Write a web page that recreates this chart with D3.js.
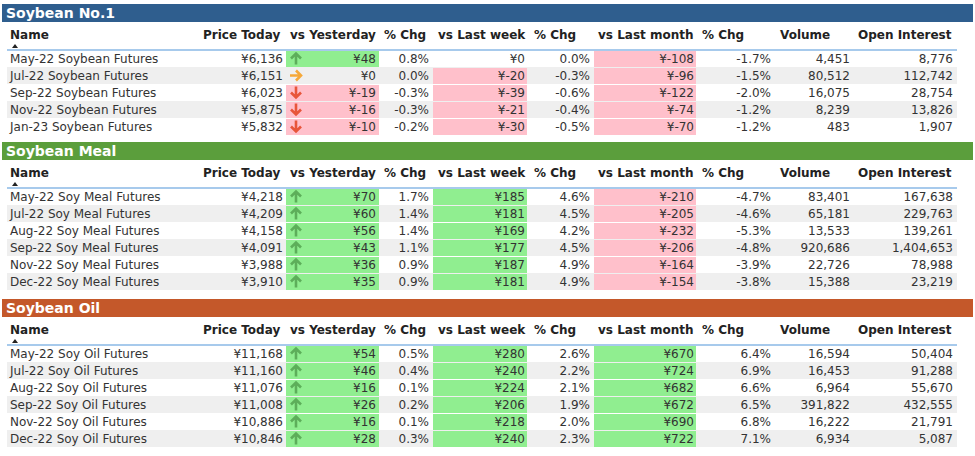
<!DOCTYPE html>
<html><head><meta charset="utf-8">
<script src="https://cdn.jsdelivr.net/npm/d3@7"></script>
<style>body{margin:0;background:#fff}text{font-family:"DejaVu Sans",Verdana,sans-serif}</style>
</head><body><svg id="c" width="975" height="456"></svg>
<script>
const headers = ["Name","Price Today","vs Yesterday","% Chg","vs Last week","% Chg","vs Last month","% Chg","Volume","Open Interest"];

const soyNames = ["May-22 Soybean Futures","Jul-22 Soybean Futures","Sep-22 Soybean Futures","Nov-22 Soybean Futures","Jan-23 Soybean Futures"];
const soyPrice = [6136,6151,6023,5875,5832];
const soyDay = [48,0,-19,-16,-10];
const soyDayPct = [0.8,0.0,-0.3,-0.3,-0.2];
const soyWeek = [0,-20,-39,-21,-30];
const soyWeekPct = [0.0,-0.3,-0.6,-0.4,-0.5];
const soyMonth = [-108,-96,-122,-74,-70];
const soyMonthPct = [-1.7,-1.5,-2.0,-1.2,-1.2];
const soyVol = [4451,80512,16075,8239,483];
const soyOI = [8776,112742,28754,13826,1907];

const mealNames = ["May-22 Soy Meal Futures","Jul-22 Soy Meal Futures","Aug-22 Soy Meal Futures","Sep-22 Soy Meal Futures","Nov-22 Soy Meal Futures","Dec-22 Soy Meal Futures"];
const mealPrice = [4218,4209,4158,4091,3988,3910];
const mealDay = [70,60,56,43,36,35];
const mealDayPct = [1.7,1.4,1.4,1.1,0.9,0.9];
const mealWeek = [185,181,169,177,187,181];
const mealWeekPct = [4.6,4.5,4.2,4.5,4.9,4.9];
const mealMonth = [-210,-205,-232,-206,-164,-154];
const mealMonthPct = [-4.7,-4.6,-5.3,-4.8,-3.9,-3.8];
const mealVol = [83401,65181,13533,920686,22726,15388];
const mealOI = [167638,229763,139261,1404653,78988,23219];

const oilNames = ["May-22 Soy Oil Futures","Jul-22 Soy Oil Futures","Aug-22 Soy Oil Futures","Sep-22 Soy Oil Futures","Nov-22 Soy Oil Futures","Dec-22 Soy Oil Futures"];
const oilPrice = [11168,11160,11076,11008,10886,10846];
const oilDay = [54,46,16,26,16,28];
const oilDayPct = [0.5,0.4,0.1,0.2,0.1,0.3];
const oilWeek = [280,240,224,206,218,240];
const oilWeekPct = [2.6,2.2,2.1,1.9,2.0,2.3];
const oilMonth = [670,724,682,672,690,722];
const oilMonthPct = [6.4,6.9,6.6,6.5,6.8,7.1];
const oilVol = [16594,16453,6964,391822,16222,6934];
const oilOI = [50404,91288,55670,432555,21791,5087];

const sections = [
  {title:"Soybean No.1", color:"#2F5E8E", y:4, names:soyNames, price:soyPrice, day:soyDay, dayPct:soyDayPct, week:soyWeek, weekPct:soyWeekPct, month:soyMonth, monthPct:soyMonthPct, vol:soyVol, oi:soyOI},
  {title:"Soybean Meal", color:"#5B9E3C", y:142, names:mealNames, price:mealPrice, day:mealDay, dayPct:mealDayPct, week:mealWeek, weekPct:mealWeekPct, month:mealMonth, monthPct:mealMonthPct, vol:mealVol, oi:mealOI},
  {title:"Soybean Oil", color:"#C4582A", y:299, names:oilNames, price:oilPrice, day:oilDay, dayPct:oilDayPct, week:oilWeek, weekPct:oilWeekPct, month:oilMonth, monthPct:oilMonthPct, vol:oilVol, oi:oilOI}
];

const svg = d3.select("#c");
const comma = v => d3.format(",")(v).replace("−","-");
const yen = v => "¥" + comma(v);
const pct = v => v.toFixed(1) + "%";
const rowH = 17;

// column layout: header x, value right edge, optional cell box
const headX = [10,203,290,384,438,534,598,702,780,858];
const valR = [0,283,376,429,525,590,694,771,850,953];
const boxes = {2:[286,379],4:[433,527],6:[594,696]};

sections.forEach(s => {
  const g = svg.append("g");
  g.append("rect").attr("x",2).attr("y",s.y).attr("width",971).attr("height",18).attr("fill",s.color);
  g.append("text").attr("x",6).attr("y",s.y+14).attr("fill","#fff")
    .attr("font-size",14).attr("font-weight","bold").text(s.title);
  const hy = s.y + 35;
  g.selectAll("text.h").data(headers).join("text").attr("class","h")
    .attr("x",(d,i)=>headX[i]).attr("y",hy).attr("font-size",12).attr("font-weight","bold")
    .attr("fill","#222").text(d=>d);
  g.append("path").attr("d",`M12,${hy+9}l3,-4l3,4z`).attr("fill","#222");
  const top = s.y + 46;
  const y = d3.scaleBand().domain(d3.range(s.names.length)).range([top, top + rowH*s.names.length]);
  g.selectAll("rect.band").data(s.names).join("rect").attr("class","band")
    .attr("x",7).attr("y",(d,i)=>y(i)).attr("width",950).attr("height",rowH)
    .attr("fill",(d,i)=>i%2 ? "#EFEFEF" : "#fff");
  g.append("line").attr("x1",7).attr("x2",957).attr("y1",top).attr("y2",top).attr("stroke","#8AB8E6").attr("stroke-width",1.5);

  const cols = [s.names, s.price.map(yen), s.day, s.dayPct.map(pct), s.week, s.weekPct.map(pct), s.month, s.monthPct.map(pct), s.vol.map(comma), s.oi.map(comma)];
  [2,4,6].forEach(c => {
    g.selectAll("rect.c"+c).data(cols[c]).join("rect").attr("class","c"+c)
      .attr("x",boxes[c][0]).attr("y",(d,i)=>y(i)+1).attr("width",boxes[c][1]-boxes[c][0]).attr("height",rowH-1)
      .attr("fill",d=>d>0 ? "#90EE90" : d<0 ? "#FFC0CB" : "none");
  });
  // arrows in vs Yesterday column
  g.selectAll("path.ar").data(s.day).join("path").attr("class","ar")
    .attr("transform",(d,i)=>`translate(296,${y(i)+rowH/2}) rotate(${d>0?-90:d<0?90:0})`)
    .attr("d","M-6,0H5M0,-5L5,0L0,5").attr("fill","none").attr("stroke-width",2.6)
    .attr("stroke",d=>d>0?"#5DAE5A":d<0?"#E8553A":"#F5A83A");
  cols.forEach((col,c) => {
    g.selectAll("text.v"+c).data(col).join("text").attr("class","v"+c)
      .attr("x",c===0?10:valR[c]).attr("y",(d,i)=>y(i)+13)
      .attr("text-anchor",c===0?"start":"end").attr("font-size",12).attr("fill","#333")
      .text(d=>[2,4,6].includes(c) ? yen(d) : d);
  });
});
</script></body></html>
